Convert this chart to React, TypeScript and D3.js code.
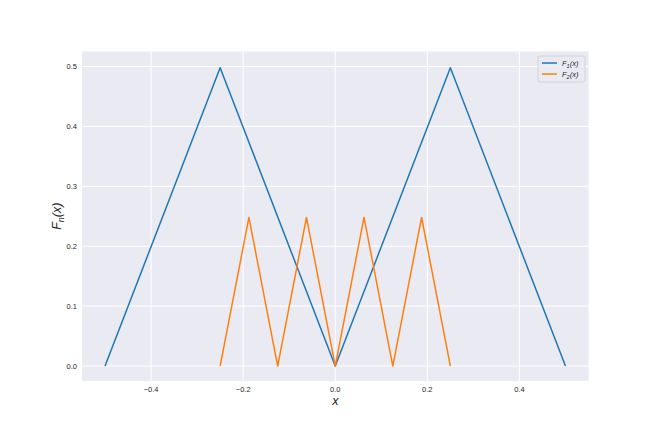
import React from "react";
import * as d3 from "d3";

const f1X = [-0.5, -0.25, 0, 0.25, 0.5];
const f1Y = [0, 0.498, 0, 0.498, 0];
const f2X = [-0.25, -0.1875, -0.125, -0.0625, 0, 0.0625, 0.125, 0.1875, 0.25];
const f2Y = [0, 0.248, 0, 0.248, 0, 0.248, 0, 0.248, 0];
const xTicks = [-0.4, -0.2, 0.0, 0.2, 0.4];
const yTicks = [0.0, 0.1, 0.2, 0.3, 0.4, 0.5];
const seriesNames = ["1", "2"];
const colors = ["#1f77b4", "#ff7f0e"];

const W = 654, H = 436;
const L = 82, R = 588.5, T = 51.5, B = 381;

export default function App() {
  const x = d3.scaleLinear().domain([-0.55, 0.55]).range([L, R]);
  const y = d3.scaleLinear().domain([-0.025, 0.525]).range([B, T]);
  const line = d3.line<[number, number]>().x(d => x(d[0])).y(d => y(d[1]));
  const s1 = f1X.map((v, i) => [v, f1Y[i]] as [number, number]);
  const s2 = f2X.map((v, i) => [v, f2Y[i]] as [number, number]);
  const font = "'Liberation Sans', Arial, sans-serif";
  const tc = "#262626";
  return (
    <svg width={W} height={H} style={{ position: "absolute", left: 0, top: 0 }} fontFamily={font}>
      <rect x={0} y={0} width={W} height={H} fill="#ffffff" />
      <rect x={L} y={T} width={R - L} height={B - T} fill="#EAEAF2" />
      {xTicks.map(t => (
        <line key={"gx" + t} x1={x(t)} x2={x(t)} y1={T} y2={B} stroke="#ffffff" strokeWidth={1} />
      ))}
      {yTicks.map(t => (
        <line key={"gy" + t} x1={L} x2={R} y1={y(t)} y2={y(t)} stroke="#ffffff" strokeWidth={1} />
      ))}
      {[s1, s2].map((s, i) => (
        <path key={i} d={line(s) || ""} fill="none" stroke={colors[i]} strokeWidth={1.5} strokeLinejoin="round" />
      ))}
      {xTicks.map(t => (
        <text key={"tx" + t} x={x(t)} y={B + 11} fontSize={7.5} fill={tc} textAnchor="middle">
          {d3.format(".1f")(t).replace("-", "\u2212")}
        </text>
      ))}
      {yTicks.map(t => (
        <text key={"ty" + t} x={L - 5} y={y(t) + 2.7} fontSize={7.5} fill={tc} textAnchor="end">
          {d3.format(".1f")(t)}
        </text>
      ))}
      <text x={x(0)} y={404.5} fontSize={12.5} fill={tc} textAnchor="middle" fontStyle="italic">x</text>
      <text transform={`translate(61,${(T + B) / 2}) rotate(-90)`} fontSize={12.5} fill={tc} textAnchor="middle" fontStyle="italic">
        F<tspan fontSize={9} dy={3}>n</tspan><tspan dy={-3}>(x)</tspan>
      </text>
      <g>
        <rect x={538} y={56} width={47} height={26} rx={2} fill="#EAEAF2" fillOpacity={0.8} stroke="#cccccc" strokeWidth={0.8} />
        {seriesNames.map((n, i) => (
          <g key={n}>
            <line x1={542} x2={557} y1={63 + i * 11} y2={63 + i * 11} stroke={colors[i]} strokeWidth={1.5} />
            <text x={562} y={66 + i * 11} fontSize={7.5} fill={tc} fontStyle="italic">
              F<tspan fontSize={5.5} dy={1.5}>{n}</tspan><tspan dy={-1.5}>(x)</tspan>
            </text>
          </g>
        ))}
      </g>
    </svg>
  );
}
